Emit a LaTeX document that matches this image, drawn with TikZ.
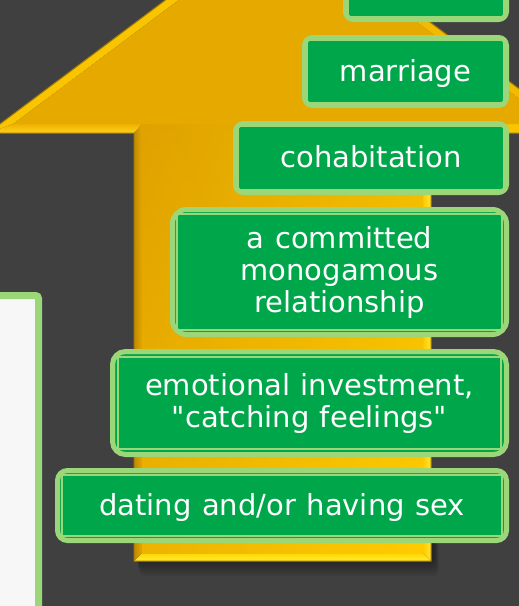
\documentclass[tikz,border=0pt]{standalone}
\usepackage{fontspec}
\setmainfont{DejaVu Sans}[Ligatures=TeXOff, WordSpace=1.15]
\definecolor{bg}{HTML}{404040}
\definecolor{gfill}{HTML}{00A64A}
\definecolor{gline}{HTML}{9BD678}
\definecolor{panel}{HTML}{F7F7F7}
\definecolor{headc}{HTML}{E5A900}
\definecolor{outl}{HTML}{A57A00}
\definecolor{bvA}{HTML}{FFD600}
\definecolor{bvB}{HTML}{FFEC30}
\definecolor{bvC}{HTML}{FFCB00}
\definecolor{bvD}{HTML}{FFE630}
\definecolor{bvE}{HTML}{F8C600}
\definecolor{bvF}{HTML}{F2BA00}
\definecolor{bvG}{HTML}{F9C500}
\definecolor{bvH}{HTML}{EDB200}
\definecolor{bvI}{HTML}{FFD21A}
\definecolor{bvJ}{HTML}{BF8A00}
\definecolor{bvK}{HTML}{E5A700}
\definecolor{shB}{HTML}{FFC800}
\definecolor{shL}{HTML}{D89A00}
\definecolor{shM}{HTML}{F4B800}
\definecolor{shR}{HTML}{FFD000}
\tikzset{
  lbl/.style={text=white, font=\fontsize{29}{32}\selectfont, align=center, inner sep=0pt},
  boxouter/.style={draw=gline, line width=5pt, fill=gfill},
  boxinner/.style={draw=gline, line width=2pt},
}
\newcommand{\gbox}[7]{%
  \draw[boxouter, rounded corners=#6] ({#2+2.5},{#3+2.5}) rectangle ({#4-2.5},{#5-2.5});
  \draw[boxinner] ({#2+#7},{#3+#7}) rectangle ({#4-#7},{#5-#7});
  \coordinate (#1) at ({(#2+#4)/2},{(#3+#5)/2});
}
\begin{document}
\begin{tikzpicture}[x=1pt,y=-1pt]
\useasboundingbox (0,0) rectangle (519,606);
\clip (0,0) rectangle (519,606);
\fill[bg] (0,0) rectangle (519,606);

% white panel
\draw[gline, line width=7pt, fill=panel, rounded corners=3pt] (-30,295.5) rectangle (38.5,680);

% shadow under the arrow
\foreach \d in {2,4,...,16}
  \fill[black, opacity=0.05, rounded corners=6pt] ({136+\d*0.2},540) rectangle ({434+\d*0.3},{560+\d});

% arrow geometry
\coordinate (P1) at (134,561);
\coordinate (P2) at (134,133);
\coordinate (P3) at (-12,133);
\coordinate (P4) at (283,-88);
\coordinate (P5) at (578,133);
\coordinate (P6) at (431,133);
\coordinate (P7) at (431,561);
\coordinate (Q1) at (142,553);
\coordinate (Q2) at (142,124);
\coordinate (Q3) at (13,124);
\coordinate (Q4) at (283,-78);
\coordinate (Q5) at (553,124);
\coordinate (Q6) at (423,124);
\coordinate (Q7) at (423,553);

% bevel faces
\shade[top color=bvA, bottom color=bvB] (P1)--(P7)--(Q7)--(Q1)--cycle;
\shade[left color=bvC, right color=bvD] (P7)--(P6)--(Q6)--(Q7)--cycle;
\fill[bvE] (P6)--(P5)--(Q5)--(Q6)--cycle;
\fill[bvF] (P5)--(P4)--(Q4)--(Q5)--cycle;
\fill[bvG] (P4)--(P3)--(Q3)--(Q4)--cycle;
\shade[top color=bvH, bottom color=bvI] (P3)--(P2)--(Q2)--(Q3)--cycle;
\shade[left color=bvJ, right color=bvK] (P2)--(P1)--(Q1)--(Q2)--cycle;

% inner faces
\fill[headc] (Q2)--(Q3)--(Q4)--(Q5)--(Q6)--cycle;
\shade[top color=headc, bottom color=shB] (Q2) rectangle (Q7);
\shade[left color=shL, middle color=shM, right color=shR, opacity=0.45] (Q2) rectangle (Q7);

% outline
\draw[outl, line width=1pt, line join=miter] (P1)--(P2)--(P3)--(P4)--(P5)--(P6)--(P7)--cycle;

% green boxes
\gbox{b1}{343}{-40}{509}{22}{8pt}{5}
\gbox{b2}{302}{35}{509}{108}{8pt}{5}
\gbox{b3}{233}{121}{509}{195}{8pt}{5}
\gbox{b4}{170}{207}{509}{337}{14pt}{7}
\gbox{b5}{110}{349}{509}{457}{13pt}{8}
\gbox{b6}{55}{468}{509}{543}{10pt}{7}

\node[lbl, anchor=base] (tmarriage) at (405.5,81) {marriage};
\node[lbl, anchor=base] (tcohab) at (371,167) {cohabitation};
\node[lbl] (tcommit) at (339.5,272) {a committed\\monogamous\\relationship};
\node[lbl] (temot) at (309.5,403) {emotional investment,\\"catching feelings"};
\node[lbl, anchor=base] (tdating) at (282,515) {dating and/or having sex};
\end{tikzpicture}
\end{document}
